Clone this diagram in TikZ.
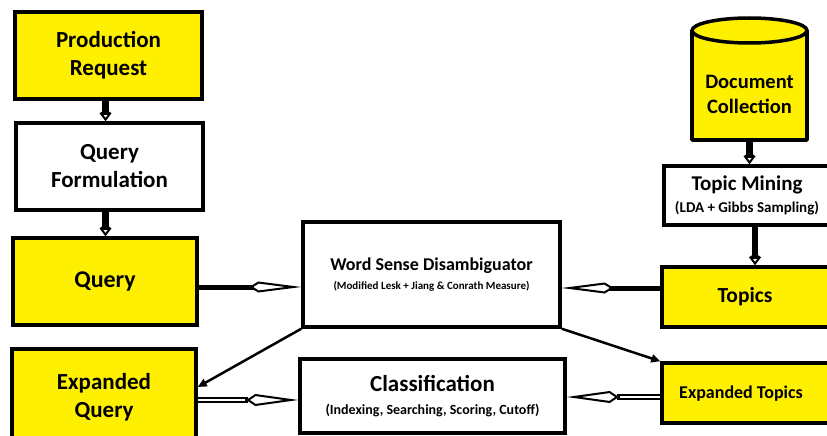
\documentclass[tikz,border=0pt]{standalone}
\usepackage{fontspec}
\setmainfont{Carlito}
\usetikzlibrary{arrows.meta,calc}
\definecolor{yel}{RGB}{255,240,0}
\begin{document}
\begin{tikzpicture}[x=1pt,y=-1pt,
  box/.style={draw,line width=3.5pt,rectangle,inner sep=0pt,align=center,font=\bfseries},
  ybox/.style={box,fill=yel},
  big/.style={font=\bfseries\fontsize{23}{28}\selectfont},
  varr/.style={line width=6.5pt,-{Kite[open,length=12pt,width=12pt,inset=4pt,line width=2pt]}},
  harr/.style={line width=5pt,-{Kite[open,length=52pt,width=11pt,inset=9pt,line width=2pt]}},
  dshaft/.style={line width=1.7pt,double,double distance=2.6pt},
  dhead/.style={line width=1.4pt,-{Kite[open,length=52pt,width=12pt,inset=9pt,line width=2pt]}},
  darr/.style={line width=2.5pt,-{Triangle[length=9pt,width=8pt]}}]
\useasboundingbox (0,0) rectangle (827,436);
\clip (0,0) rectangle (827,436);

% left column
\node[ybox,big,minimum width=187pt,minimum height=87pt] (prod) at (108.5,55.5) {Production\\Request};
\node[box,big,minimum width=187pt,minimum height=87pt] (qf) at (109.5,166.5) {Query\\Formulation};
\node[ybox,font=\bfseries\fontsize{24}{28}\selectfont,minimum width=184pt,minimum height=87pt] (query) at (105,281.5) {Query};
\node[ybox,big,minimum width=184pt,minimum height=96pt] (expq) at (104,397) {Expanded\\Query};

% middle
\node[box,font=\bfseries\fontsize{11}{19}\selectfont,minimum width=257pt,minimum height=105pt] (wsd) at (431.5,274.5)
  {{\fontsize{18}{19}\selectfont Word Sense Disambiguator}\\(Modified Lesk + Jiang \& Conrath Measure)};
\node[box,font=\bfseries\fontsize{14}{23}\selectfont,minimum width=265pt,minimum height=74pt] (cls) at (432.5,396)
  {{\fontsize{23}{23}\selectfont Classification}\\(Indexing, Searching, Scoring, Cutoff)};

% document collection cylinder
\fill[yel] (692,30.5) rectangle (807,140);
\draw[line width=3.5pt,line join=round] (692,30.5) -- (692,140) -- (807,140) -- (807,30.5);
\draw[line width=3.5pt,fill=yel] (749.5,30.5) ellipse[x radius=57.5pt,y radius=12.5pt];
\node[align=center,font=\bfseries\fontsize{20.5}{25}\selectfont,minimum width=115pt,minimum height=92pt,inner sep=0pt] (doc) at (749.5,94) {Document\\Collection};

% right column
\node[box,font=\bfseries\fontsize{15}{22}\selectfont,minimum width=166pt,minimum height=59pt] (tm) at (747,195.5)
  {{\fontsize{21}{22}\selectfont Topic Mining}\\(LDA + Gibbs Sampling)};
\node[ybox,minimum width=173pt,minimum height=60pt] (topics) at (748.5,297) {};
\node[font=\bfseries\fontsize{21.5}{24}\selectfont] (topicslbl) at (745,297) {Topics};
\node[ybox,minimum width=173pt,minimum height=60pt] (expt) at (748.5,393) {};
\node[font=\bfseries\fontsize{18}{22}\selectfont] (exptlbl) at (741,394) {Expanded Topics};

% vertical arrows
\draw[varr] ([xshift=-3pt]prod.south) -- ([xshift=-3pt]prod.south |- qf.north);
\draw[varr] ([xshift=-4pt]qf.south) -- ([xshift=-4pt]qf.south |- query.north);
\draw[varr] (doc.south) -- (doc.south |- tm.north);
\draw[varr] ([xshift=8pt]tm.south) -- ([xshift=8pt]tm.south |- topics.north);

% horizontal arrows
\draw[harr] ([yshift=-5.5pt]query.east) -- ([yshift=-5.5pt]query.east -| wsd.west);
\draw[harr] ([yshift=9pt]topics.west) -- ([yshift=9pt]topics.west -| wsd.east);

\coordinate (eqa) at ([yshift=-3pt]expq.east);
\coordinate (cla) at (eqa -| cls.west);
\draw[dshaft,shorten >=50pt] (eqa) -- (cla);
\draw[dhead] ($(cla)+(-53pt,0)$) -- (cla);

\coordinate (eta) at ([yshift=-4pt]expt.west);
\coordinate (clb) at (eta -| cls.east);
\draw[dshaft,shorten >=50pt] (eta) -- (clb);
\draw[dhead] ($(clb)+(53pt,0)$) -- (clb);

% diagonal arrows
\draw[darr] (wsd.south west) -- ([yshift=10pt]expq.east);
\draw[darr] (wsd.south east) -- (expt.north west);
\end{tikzpicture}
\end{document}
